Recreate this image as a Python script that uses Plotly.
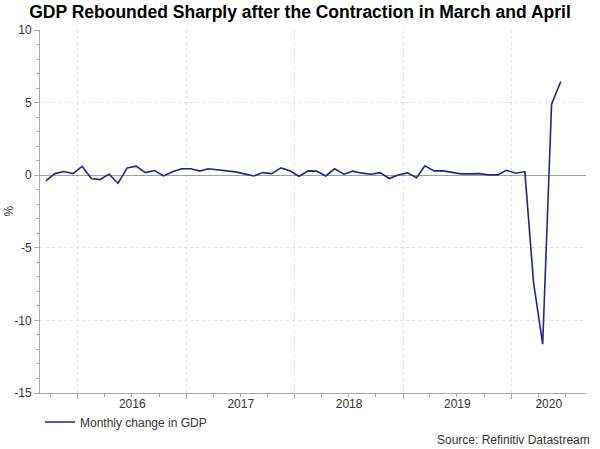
import pandas as pd
import plotly.graph_objects as go

# ---- data ----
first_month = "2015-09"
last_month = "2020-06"
gdp_change = [-0.39, 0.11, 0.25, 0.11, 0.6, -0.23, -0.3, 0.07, -0.55, 0.5,
              0.62, 0.18, 0.32, -0.05, 0.23, 0.44, 0.44, 0.28, 0.44, 0.37,
              0.32, 0.23, 0.09, -0.05, 0.18, 0.11, 0.5, 0.3, -0.07, 0.3,
              0.28, -0.05, 0.44, 0.07, 0.28, 0.14, 0.07, 0.18, -0.23, 0.02,
              0.16, -0.18, 0.64, 0.3, 0.3, 0.2, 0.09, 0.09, 0.11, 0.02,
              0.02, 0.34, 0.14, 0.25, -7.35, -11.64, 4.89, 6.45]
year_labels = ["2016", "2017", "2018", "2019", "2020"]
y_tick_values = [-15, -10, -5, 0, 5, 10]
y_tick_labels = ["-15", "-10", "-5", "0", "5", "10"]
series_name = "Monthly change in GDP"
title_text = "GDP Rebounded Sharply after the Contraction in March and April"
source_text = "Source: Refinitiv Datastream"

months = pd.date_range(first_month, last_month, freq="MS") + pd.Timedelta(days=14)

x_start = pd.Timestamp("2015-08-26")
x_end = pd.Timestamp("2020-09-08")

# label positions: centre of the visible part of each year
label_pos = []
for y in year_labels:
    a = max(pd.Timestamp(f"{y}-01-01"), x_start)
    b = min(pd.Timestamp(f"{int(y)+1}-01-01"), x_end)
    label_pos.append(a + (b - a) / 2)
year_starts = [pd.Timestamp(f"{y}-01-01") for y in year_labels]

font_family = "Liberation Sans, Arial, sans-serif"
axis_col = "#9fb0a4"
hgrid_col = "#e8dede"
vgrid_col = "#dae3da"

fig = go.Figure()
fig.add_trace(go.Scatter(
    x=months, y=gdp_change, mode="lines", name=series_name,
    line=dict(color="#23238c", width=1.6),
))
# helper trace for the boundary axis
fig.add_trace(go.Scatter(x=[x_start, x_end], y=[0, 0], xaxis="x2", mode="lines",
                         line=dict(width=0), showlegend=False, hoverinfo="skip"))

fig.update_layout(
    width=600, height=449,
    margin=dict(l=40, r=14, t=30, b=56),
    paper_bgcolor="white", plot_bgcolor="white",
    font=dict(family=font_family, size=12, color="#333333"),
    title=dict(text=f"<b>{title_text}</b>", x=0.5, xanchor="center",
               y=1 - 12 / 449, yref="container", yanchor="middle",
               font=dict(size=17.5, color="#000000", family=font_family)),
    xaxis=dict(
        type="date", range=[x_start, x_end],
        tickvals=label_pos, ticktext=year_labels, ticks="",
        showgrid=False, zeroline=False,
        showline=True, linecolor=axis_col, linewidth=1,
        tickfont=dict(size=12, color="#333333"),
    ),
    xaxis2=dict(
        type="date", range=[x_start, x_end], overlaying="x", matches="x",
        tickvals=year_starts, showticklabels=False,
        ticks="outside", ticklen=5, tickcolor=axis_col,
        showgrid=True, gridcolor=vgrid_col, griddash="dot", gridwidth=1,
        minor=dict(dtick="M3", tick0="2015-01-01", ticks="outside", ticklen=3,
                   tickcolor=axis_col, showgrid=False),
        showline=False, zeroline=False,
    ),
    yaxis=dict(
        range=[-15, 10], tickvals=y_tick_values, ticktext=y_tick_labels,
        ticks="outside", ticklen=5, tickcolor=axis_col,
        showline=True, linecolor=axis_col, linewidth=1,
        showgrid=True, gridcolor=hgrid_col, griddash="dot", gridwidth=1,
        zeroline=True, zerolinecolor="#a0a0a0", zerolinewidth=1,
        minor=dict(dtick=1, tick0=0, ticks="outside", ticklen=3, tickcolor=axis_col, showgrid=False),
        tickfont=dict(size=12, color="#333333"),
    ),
    legend=dict(orientation="h", x=0.0, xanchor="left", y=-0.08, yanchor="middle",
                font=dict(size=12, color="#333333"), bgcolor="rgba(0,0,0,0)"),
    showlegend=True,
)

fig.add_annotation(text="%", xref="paper", yref="paper", x=(8 - 40) / 546, y=0.5,
                   textangle=-90, showarrow=False, xanchor="center", yanchor="middle",
                   font=dict(size=12, color="#333333"))
fig.add_annotation(text=source_text, xref="paper", yref="paper", x=1, xshift=6,
                   y=-47 / 363, xanchor="right", yanchor="middle", showarrow=False,
                   font=dict(size=12, color="#333333"))

fig.write_html("out.html", config={"displayModeBar": False},
               post_script="document.body.style.margin='0';document.body.style.overflow='hidden';")
